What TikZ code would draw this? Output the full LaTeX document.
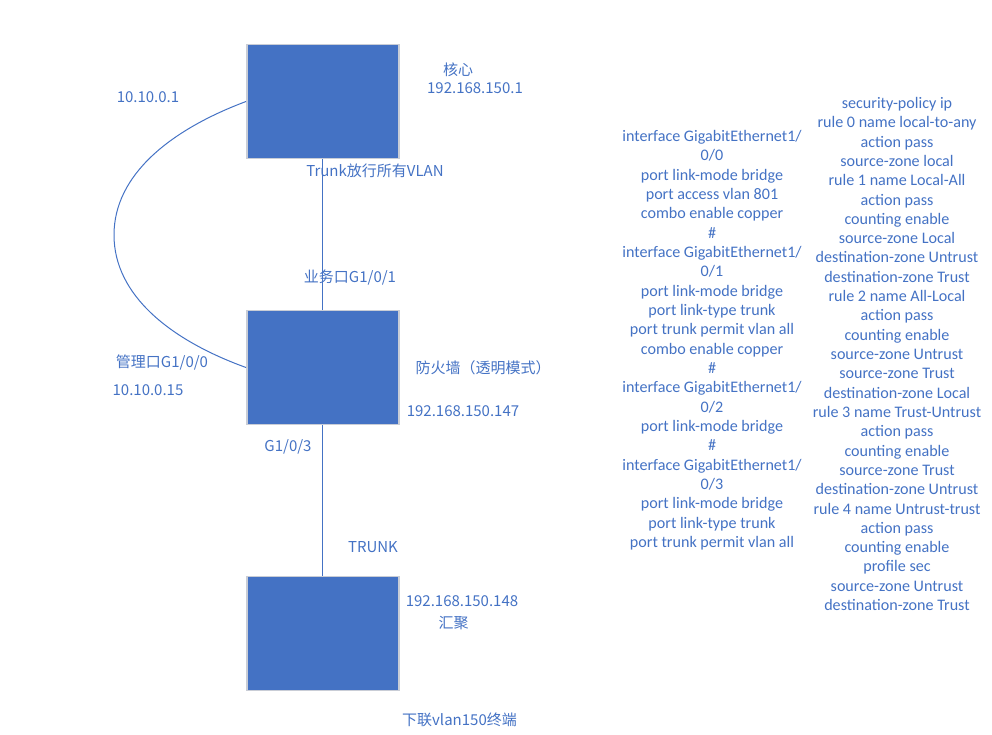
\documentclass[tikz,border=0pt]{standalone}
\usepackage{fontspec}
\setmainfont{Carlito}
\newfontfamily\cjk{Noto Sans CJK SC}
\definecolor{blu}{HTML}{4472C4}
\definecolor{edge}{HTML}{C9CDD6}
\begin{document}
\begin{tikzpicture}[x=1pt,y=-1pt,
  dev/.style={draw=edge,line width=1.5pt,fill=blu,minimum width=152pt,minimum height=114pt,inner sep=0pt},
  lab/.style={text=blu,font=\cjk\fontsize{15}{18}\selectfont,inner sep=0pt},
  cfg/.style={text=blu,font=\fontsize{16.1}{18}\selectfont,inner sep=0pt,anchor=base},
  wire/.style={draw=blu,line width=1pt}]
\useasboundingbox (0,0) rectangle (992,735);
\node[dev] (core) at (322.75,101.5) {};
\node[dev] (fw) at (322.75,367.5) {};
\node[dev] (agg) at (322.75,633.5) {};
\draw[wire] (core.south) -- (fw.north);
\draw[wire] (fw.south) -- (agg.north);
\draw[wire] (core.west) .. controls (170,130) and (114,175) .. (114,235)
  .. controls (114,295) and (170,340) .. (fw.west);
\node[lab] (t1) at (458,70) {核心};
\node[lab] (t2) at (475,88) {192.168.150.1};
\node[lab] (t3) at (148,97) {10.10.0.1};
\node[lab] (t4) at (375,171) {Trunk放行所有VLAN};
\node[lab] (t5) at (350,278) {业务口G1/0/1};
\node[lab] (t6) at (162,363) {管理口G1/0/0};
\node[lab] (t7) at (148,390) {10.10.0.15};
\node[lab] (t8) at (483,368) {防火墙（透明模式）};
\node[lab] (t9) at (463,411) {192.168.150.147};
\node[lab] (t10) at (288,447) {G1/0/3};
\node[lab] (t11) at (373,547) {TRUNK};
\node[lab] (t12) at (462,601) {192.168.150.148};
\node[lab] (t13) at (453.5,623) {汇聚};
\node[lab] (t14) at (459.5,720) {下联vlan150终端};
\foreach \s [count=\i from 0] in {interface GigabitEthernet1/,0/0,port link-mode bridge,port access vlan 801,combo enable copper,\#,interface GigabitEthernet1/,0/1,port link-mode bridge,port link-type trunk,port trunk permit vlan all,combo enable copper,\#,interface GigabitEthernet1/,0/2,port link-mode bridge,\#,interface GigabitEthernet1/,0/3,port link-mode bridge,port link-type trunk,port trunk permit vlan all}
  \node[cfg] (L\i) at (712,141.5+19.33*\i) {\s};
\foreach \s [count=\i from 0] in {security-policy ip,rule 0 name local-to-any,action pass,source-zone local,rule 1 name Local-All,action pass,counting enable,source-zone Local,destination-zone Untrust,destination-zone Trust,rule 2 name All-Local,action pass,counting enable,source-zone Untrust,source-zone Trust,destination-zone Local,rule 3 name Trust-Untrust,action pass,counting enable,source-zone Trust,destination-zone Untrust,rule 4 name Untrust-trust,action pass,counting enable,profile sec,source-zone Untrust,destination-zone Trust}
  \node[cfg] (R\i) at (897,108.5+19.31*\i) {\s};
\end{tikzpicture}
\end{document}
